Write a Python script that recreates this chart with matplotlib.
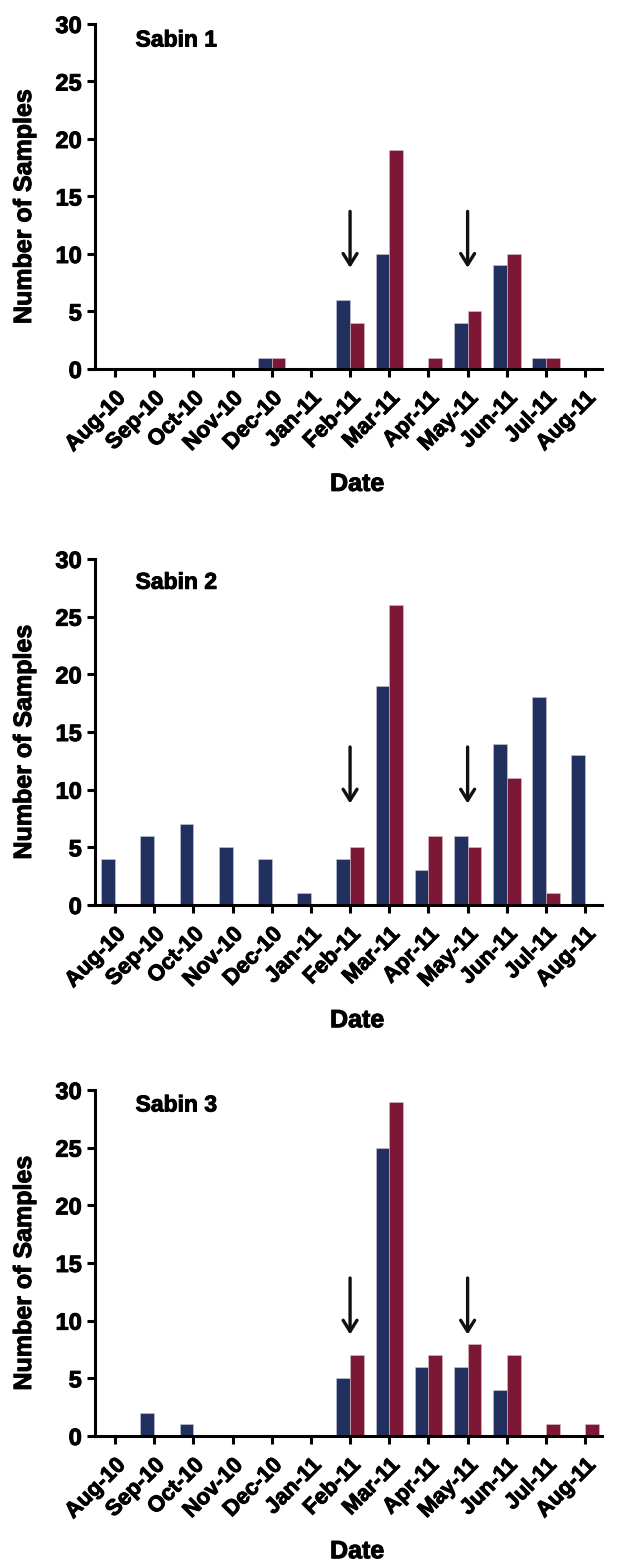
import matplotlib
matplotlib.use('Agg')
import matplotlib.pyplot as plt
import matplotlib.patheffects as pe
import numpy as np

months = ['Aug-10', 'Sep-10', 'Oct-10', 'Nov-10', 'Dec-10', 'Jan-11', 'Feb-11',
          'Mar-11', 'Apr-11', 'May-11', 'Jun-11', 'Jul-11', 'Aug-11']
sabin1_blue = [0, 0, 0, 0, 1, 0, 6, 10, 0, 4, 9, 1, 0]
sabin1_red = [0, 0, 0, 0, 1, 0, 4, 19, 1, 5, 10, 1, 0]
sabin2_blue = [4, 6, 7, 5, 4, 1, 4, 19, 3, 6, 14, 18, 13]
sabin2_red = [0, 0, 0, 0, 0, 0, 5, 26, 6, 5, 11, 1, 0]
sabin3_blue = [0, 2, 1, 0, 0, 0, 5, 25, 6, 6, 4, 0, 0]
sabin3_red = [0, 0, 0, 0, 0, 0, 7, 29, 7, 8, 7, 1, 1]
panel_titles = ['Sabin 1', 'Sabin 2', 'Sabin 3']
arrow_months = ['Feb-11', 'May-11']
arrow_top, arrow_tip = 13.7, 8.8
yticks = [0, 5, 10, 15, 20, 25, 30]

BLUE = '#22305f'
RED = '#7c1836'

plt.rcParams['font.family'] = ['Liberation Sans', 'DejaVu Sans']
plt.rcParams['font.weight'] = 'bold'

fig = plt.figure(figsize=(6.17, 15.61), dpi=100)
thick = [pe.withStroke(linewidth=0.7, foreground='black')]

H = 1561.0
panels = [
    (24, 369, 0.987),
    (559, 905, 0.966),
    (1090, 1436, 0.990),
]
blues = [sabin1_blue, sabin2_blue, sabin3_blue]
reds = [sabin1_red, sabin2_red, sabin3_red]

x = np.arange(len(months))
bw = 0.35

for i, (top, bot, ty) in enumerate(panels):
    ax = fig.add_axes([95 / 617, 1 - bot / H, 507 / 617, (bot - top) / H])
    b = np.array(blues[i])
    r = np.array(reds[i])
    mb = b > 0
    mr = r > 0
    ax.bar(x[mb] - bw / 2, b[mb], width=bw, color=BLUE, edgecolor='#c8cbd8', linewidth=0.4, zorder=2)
    ax.bar(x[mr] + bw / 2, r[mr], width=bw, color=RED, edgecolor='#d8c0c8', linewidth=0.4, zorder=2)
    ax.set_xlim(-0.51, 12.43)
    ax.set_ylim(0, 30)
    ax.set_yticks(yticks)
    ax.set_xticks(x)
    ax.set_xticklabels(months, rotation=45, ha='right', va='top', rotation_mode='anchor',
                       fontsize=16, fontweight='bold')
    for lab in ax.get_yticklabels():
        lab.set_fontsize(17)
        lab.set_fontweight('bold')
        lab.set_path_effects(thick)
    for lab in ax.get_xticklabels():
        lab.set_path_effects(thick)
    ax.spines['top'].set_visible(False)
    ax.spines['right'].set_visible(False)
    for s in ('left', 'bottom'):
        ax.spines[s].set_linewidth(2.2)
    ax.tick_params(axis='x', direction='out', width=2.2, length=5.5, pad=8)
    ax.tick_params(axis='y', direction='out', width=2.2, length=6, pad=3.5)
    ax.set_ylabel('Number of Samples', fontsize=18, fontweight='bold')
    ax.yaxis.set_label_coords(-0.140, 0.471)
    ax.yaxis.label.set_va('center')
    ax.yaxis.label.set_path_effects(thick)
    ax.set_xlabel('Date', fontsize=18, fontweight='bold')
    ax.xaxis.set_label_coords(0.517, -0.333)
    ax.xaxis.label.set_va('center')
    ax.xaxis.label.set_path_effects(thick)
    ax.text(0.080, ty, panel_titles[i], transform=ax.transAxes, ha='left', va='top',
            fontsize=16.5, fontweight='bold', path_effects=thick)
    for m in arrow_months:
        xi = months.index(m)
        ax.annotate('', xy=(xi, arrow_tip), xytext=(xi, arrow_top),
                    arrowprops=dict(arrowstyle='->,head_length=0.4,head_width=0.25',
                                    mutation_scale=20, color='#111111', lw=2.4,
                                    shrinkA=0, shrinkB=0))

fig.savefig('out.png', dpi=100, facecolor='white')
